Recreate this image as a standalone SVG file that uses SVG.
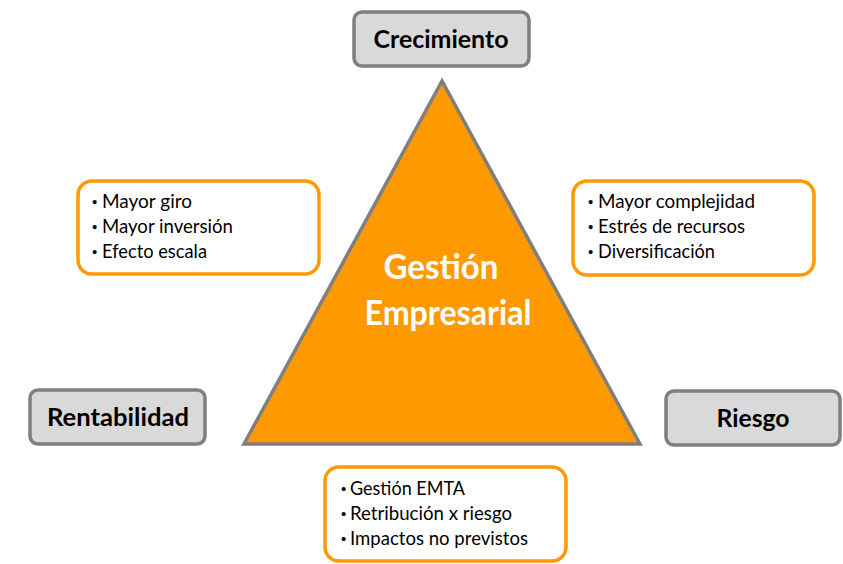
<svg xmlns="http://www.w3.org/2000/svg" width="843" height="564" viewBox="0 0 843 564">
<style>
.gbox{fill:#d9d9d9;stroke:#7f7f7f;stroke-width:3.5}
.obox{fill:#ffffff;stroke:#ff9900;stroke-width:3.5}
.lbl{font-family:Lato,"Open Sans","Liberation Sans",sans-serif;font-weight:bold;font-size:25px;fill:#000000;text-anchor:middle}
.bul{font-family:Lato,"Open Sans","Liberation Sans",sans-serif;font-size:19px;fill:#000000}
.dot{font-family:"Liberation Sans",sans-serif;font-size:15px;fill:#000000}
.ttl{font-family:Lato,"Open Sans","Liberation Sans",sans-serif;font-weight:bold;font-size:34px;fill:#ffffff;text-anchor:middle}
</style>
<rect width="843" height="564" fill="#ffffff"/>
<g id="triangle">
<polygon points="442,81 244,444 640,444" fill="#ff9900" stroke="#7f7f7f" stroke-width="3.5" stroke-linejoin="miter"/>
<text class="ttl" x="441" y="279" textLength="115" lengthAdjust="spacingAndGlyphs">Gestión</text>
<text class="ttl" x="448" y="325" textLength="167" lengthAdjust="spacingAndGlyphs">Empresarial</text>
</g>
<g id="connectors"></g>
<g id="crecimiento">
<rect class="gbox" x="354" y="12" width="175" height="54" rx="8"/>
<text class="lbl" x="441" y="48" textLength="135" lengthAdjust="spacingAndGlyphs">Crecimiento</text>
</g>
<g id="rentabilidad">
<rect class="gbox" x="30" y="390" width="175" height="54" rx="8"/>
<text class="lbl" x="118" y="426" textLength="142" lengthAdjust="spacingAndGlyphs">Rentabilidad</text>
</g>
<g id="riesgo">
<rect class="gbox" x="666" y="391" width="174" height="54" rx="8"/>
<text class="lbl" x="753" y="427" textLength="73" lengthAdjust="spacingAndGlyphs">Riesgo</text>
</g>
<g id="left-notes">
<rect class="obox" x="78" y="181" width="241" height="93" rx="14"/>
<text class="dot" x="92" y="207">•</text>
<text class="bul" x="102" y="208" textLength="90" lengthAdjust="spacingAndGlyphs">Mayor giro</text>
<text class="dot" x="92" y="232">•</text>
<text class="bul" x="102" y="233" textLength="131" lengthAdjust="spacingAndGlyphs">Mayor inversión</text>
<text class="dot" x="92" y="257">•</text>
<text class="bul" x="102" y="258" textLength="105" lengthAdjust="spacingAndGlyphs">Efecto escala</text>
</g>
<g id="right-notes">
<rect class="obox" x="573" y="181" width="241" height="94" rx="14"/>
<text class="dot" x="588" y="207">•</text>
<text class="bul" x="598" y="208" textLength="157" lengthAdjust="spacingAndGlyphs">Mayor complejidad</text>
<text class="dot" x="588" y="232">•</text>
<text class="bul" x="598" y="233" textLength="147" lengthAdjust="spacingAndGlyphs">Estrés de recursos</text>
<text class="dot" x="588" y="257">•</text>
<text class="bul" x="598" y="258" textLength="117" lengthAdjust="spacingAndGlyphs">Diversificación</text>
</g>
<g id="bottom-notes">
<rect class="obox" x="325" y="467" width="241" height="94" rx="14"/>
<text class="dot" x="341" y="494">•</text>
<text class="bul" x="350" y="495" textLength="115" lengthAdjust="spacingAndGlyphs">Gestión EMTA</text>
<text class="dot" x="341" y="519">•</text>
<text class="bul" x="350" y="520" textLength="162" lengthAdjust="spacingAndGlyphs">Retribución x riesgo</text>
<text class="dot" x="341" y="544">•</text>
<text class="bul" x="350" y="545" textLength="178" lengthAdjust="spacingAndGlyphs">Impactos no previstos</text>
</g>
</svg>
